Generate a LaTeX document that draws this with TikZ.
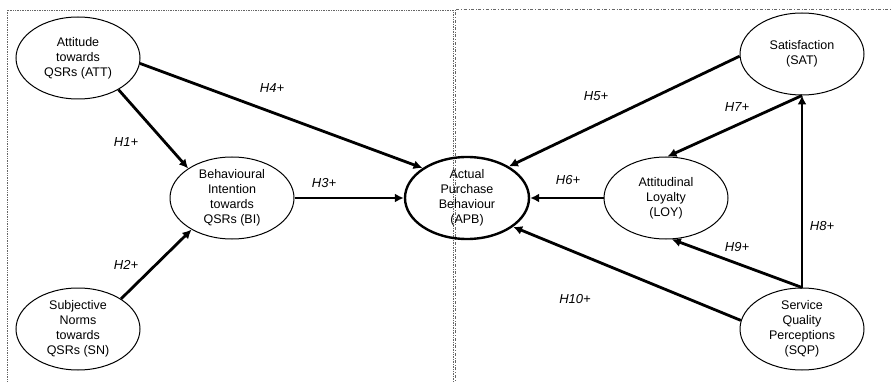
\documentclass[tikz,border=0pt]{standalone}
\usepackage{fontspec}
\setmainfont{Liberation Sans}
\usetikzlibrary{arrows.meta,shapes.geometric}

\begin{document}
\begin{tikzpicture}[x=1pt, y=-1pt, font=\fontsize{12.5}{15}\selectfont]
   \definecolor{framegray}{rgb}{0.4,0.4,0.4}
   \tikzset{
    construct/.style={draw, ellipse, align=center,
     minimum width=124pt, minimum height=82pt, inner sep=0pt, line width=1pt},
    link/.style={line width=2.8pt, -{Latex[length=9pt,width=9pt]}},
    hyp/.style={font=\fontsize{13}{15}\selectfont\itshape}
   }
   \useasboundingbox (0,0) rectangle (891,382);
   % frames
   \draw[framegray, densely dotted, line width=0.7pt] (7,400) -- (7,10) -- (453,10) -- (453,400);
   \draw[framegray, dash dot, line width=0.7pt] (455,400) -- (455,9) -- (900,9);
   % constructs
   \node [construct] (att) at (78,58) {Attitude\\towards\\QSRs (ATT)};
   \node [construct] (sn) at (78,329) {Subjective\\Norms\\towards\\QSRs (SN)};
   \node [construct] (bi) at (232,198) {Behavioural\\Intention\\towards\\QSRs (BI)};
   \node [construct, line width=2.4pt] (apb) at (467,198) {Actual\\Purchase\\Behaviour\\(APB)};
   \node [construct] (loy) at (666,198) {Attitudinal\\Loyalty\\(LOY)};
   \node [construct] (sat) at (802,54) {Satisfaction\\(SAT)};
   \node [construct] (sqp) at (802,329) {Service\\Quality\\Perceptions\\(SQP)};
   % hypotheses
   \draw[link] (att.-38) -- (bi.146);
   \draw[link] (sn.35) -- (bi.218);
   \draw[link] (bi.east) -- (apb.west);
   \draw[link] (att.-5) -- (apb.146);
   \draw[link] (sat.182) -- (apb.37);
   \draw[link] (loy.west) -- (apb.east);
   \draw[link] (sat.south) -- (loy.88);
   \draw[link] (sqp.north) -- (sat.south);
   \draw[link] (sqp.north) -- (loy.-82);
   \draw[link] (sqp.172) -- (apb.-32);
   % labels
   \node [hyp] (h1) at (126,142) {H1+};
   \node [hyp] (h2) at (126,265) {H2+};
   \node [hyp] (h3) at (324,183) {H3+};
   \node [hyp] (h4) at (272,88) {H4+};
   \node [hyp] (h5) at (596,96) {H5+};
   \node [hyp] (h6) at (568,180) {H6+};
   \node [hyp] (h7) at (737,107) {H7+};
   \node [hyp] (h8) at (822,226) {H8+};
   \node [hyp] (h9) at (737,247) {H9+};
   \node [hyp] (h10) at (575,299) {H10+};
\end{tikzpicture}
\end{document}
